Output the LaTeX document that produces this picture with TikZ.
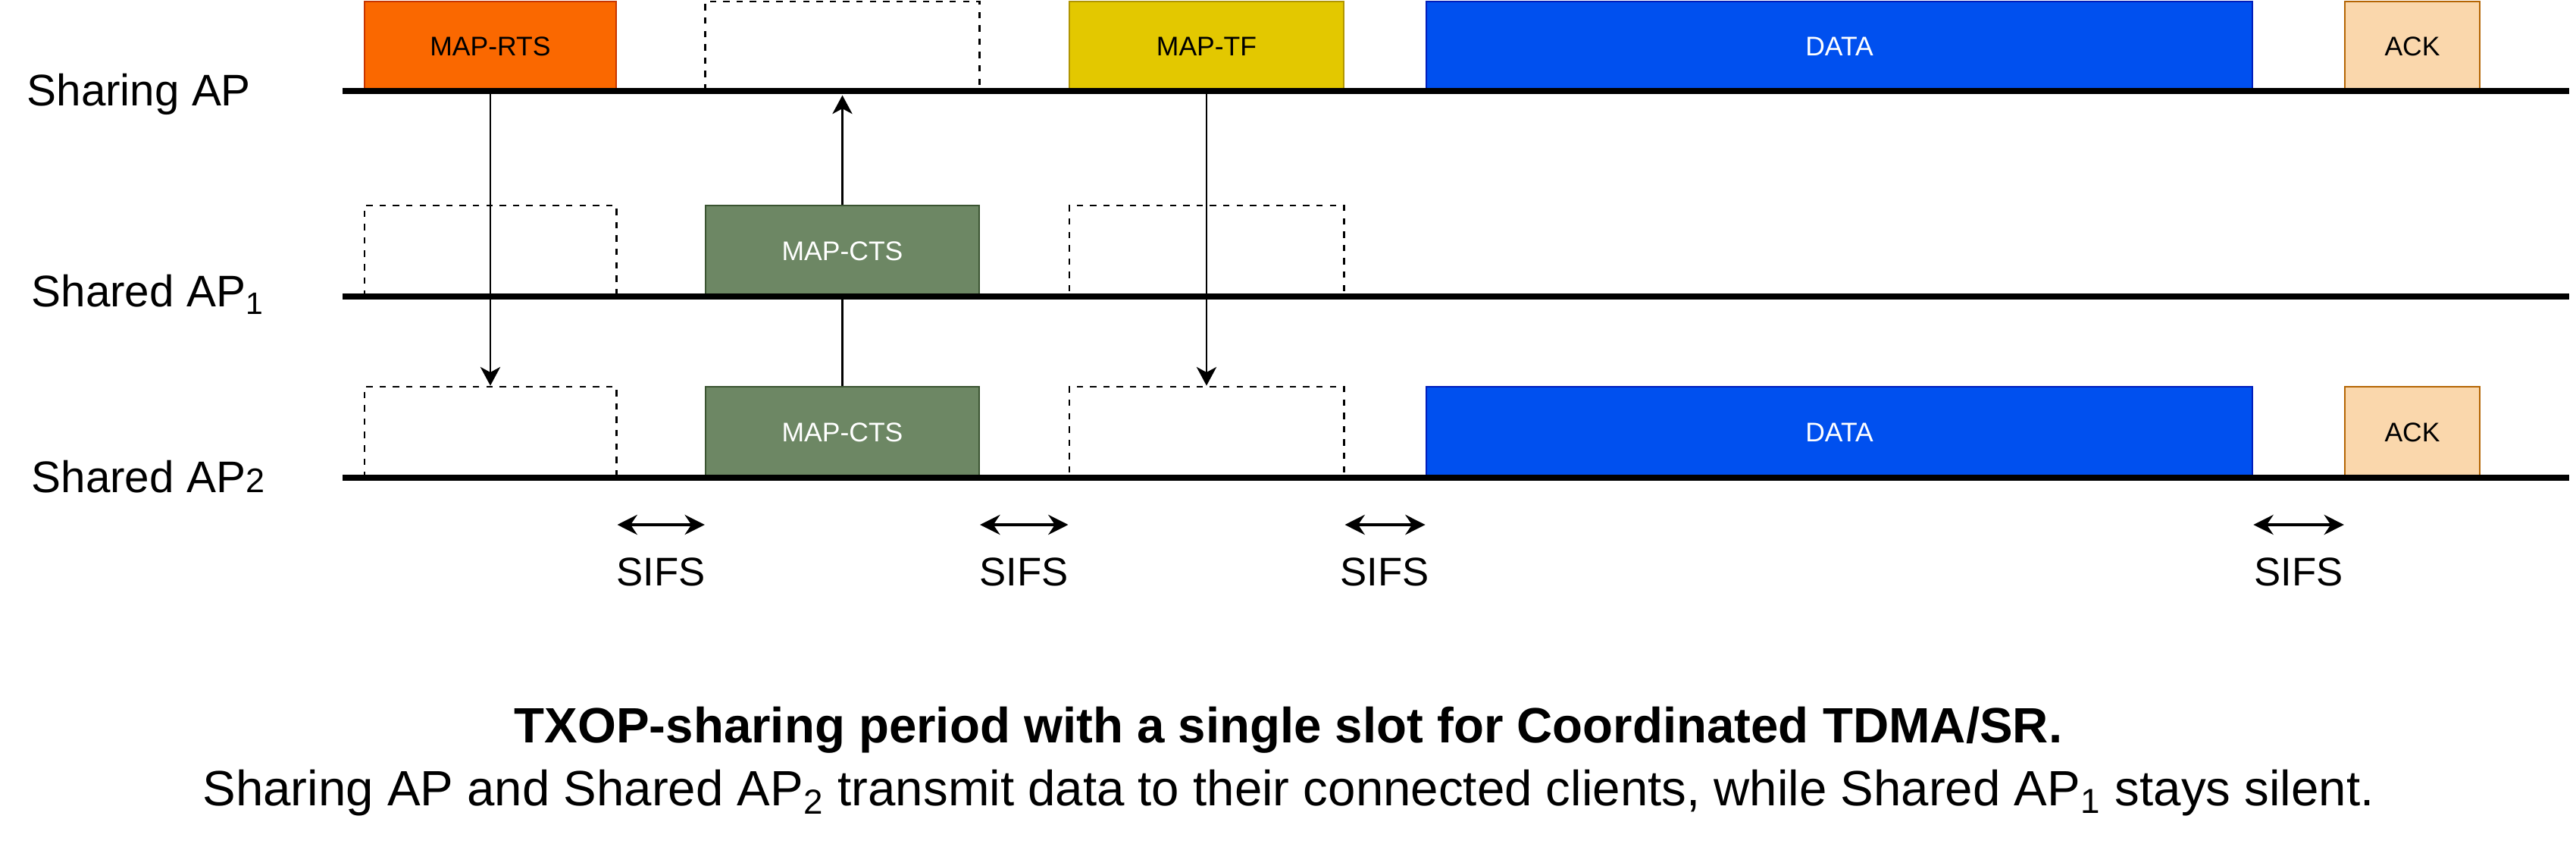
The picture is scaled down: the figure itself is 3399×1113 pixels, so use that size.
\documentclass[tikz,border=0pt]{standalone}
\usepackage{fontspec}
\setmainfont{Liberation Sans}
\usepackage{xcolor}
\usepackage{tikz}
\usetikzlibrary{arrows.meta, backgrounds}

\definecolor{rtsfill}{HTML}{FA6800}
\definecolor{rtsline}{HTML}{C73500}
\definecolor{ctsfill}{HTML}{6D8764}
\definecolor{ctsline}{HTML}{3A5431}
\definecolor{tffill}{HTML}{E3C800}
\definecolor{tfline}{HTML}{B09500}
\definecolor{datafill}{HTML}{0050EF}
\definecolor{dataline}{HTML}{001DBC}
\definecolor{ackfill}{HTML}{FAD7AC}
\definecolor{ackline}{HTML}{B46504}

\begin{document}
\begin{tikzpicture}[x=0.01cm, y=-0.01cm,
    frame/.style={draw, line width=0.6pt, minimum height=1.2cm, inner sep=0pt, font=\fontsize{10.1}{12}\selectfont},
    empty/.style={frame, dash pattern=on 2.4pt off 2.6pt, line width=0.8pt},
    rtsbox/.style={frame, fill=rtsfill, draw=rtsline},
    ctsbox/.style={frame, fill=ctsfill, draw=ctsline, text=white},
    tfbox/.style={frame, fill=tffill, draw=tfline},
    databox/.style={frame, fill=datafill, draw=dataline, text=white},
    ackbox/.style={frame, fill=ackfill, draw=ackline},
    timeline/.style={draw, line width=2.3pt},
    arrow/.style={draw, line width=0.6pt, -{Stealth[length=7pt, width=7.5pt, inset=2pt]}},
    gap/.style={draw, line width=0.9pt, {Stealth[length=7.5pt, width=7.5pt, inset=2.5pt]}-{Stealth[length=7.5pt, width=7.5pt, inset=2.5pt]}},
    rowlabel/.style={anchor=base west, inner sep=0pt, font=\fontsize{16.6}{20}\selectfont},
    sifs/.style={anchor=base, inner sep=0pt, font=\fontsize{15}{18}\selectfont},
    caption/.style={anchor=base, inner sep=0pt, font=\fontsize{18.6}{22}\selectfont}
]
    \useasboundingbox (0,0) rectangle (3399,1113);

    % Sharing AP
    \node[rtsbox, minimum width=3.32cm, minimum height=1.18cm] (rts) at (647,61) {MAP-RTS};
    \node[empty, minimum width=3.61cm, minimum height=1.18cm] (d1) at (1111.5,61) {};
    \node[tfbox, minimum width=3.62cm, minimum height=1.18cm] (tf) at (1592,61) {MAP-TF};
    \node[databox, minimum width=10.9cm, minimum height=1.18cm] (data1) at (2427,61) {DATA};
    \node[ackbox, minimum width=1.78cm, minimum height=1.18cm] (ack1) at (3183,61) {ACK};

    % Shared AP1
    \node[empty, minimum width=3.32cm] (e1a) at (647,331) {};
    \node[ctsbox, minimum width=3.61cm] (cts1) at (1111.5,331) {MAP-CTS};
    \node[empty, minimum width=3.62cm] (e1c) at (1592,331) {};

    % Shared AP2
    \node[empty, minimum width=3.32cm] (e2a) at (647,570) {};
    \node[ctsbox, minimum width=3.61cm] (cts2) at (1111.5,570) {MAP-CTS};
    \node[empty, minimum width=3.62cm] (e2c) at (1592,570) {};
    \node[databox, minimum width=10.9cm] (data2) at (2427,570) {DATA};
    \node[ackbox, minimum width=1.78cm] (ack2) at (3183,570) {ACK};

    % Timelines
    \node[rowlabel] (lsharing) at (35,140) {Sharing AP};
    \node[rowlabel] (lshared1) at (41,405) {Shared AP\textsubscript{1}};
    \node[rowlabel] (lshared2) at (41,650) {Shared AP{\fontsize{12.8}{14}\selectfont 2}};
    \coordinate (a0) at (452,120);  \coordinate (a1) at (3390,120);
    \coordinate (b0) at (452,391);  \coordinate (b1) at (3390,391);
    \coordinate (c0) at (452,630);  \coordinate (c1) at (3390,630);
    \draw[timeline] (a0) -- (a1);
    \draw[timeline] (b0) -- (b1);
    \draw[timeline] (c0) -- (c1);

    % Flow
    \begin{pgfonlayer}{background}
    \draw[arrow] (rts.south) -- (e2a.north);
    \draw[arrow, shorten >=1.2pt] (cts2.north) -- (d1.south);
    \draw[arrow] (tf.south) -- (e2c.north);
    \end{pgfonlayer}

    % SIFS
    \node[sifs] (s1) at (872,773) {SIFS};
    \node[sifs] (s2) at (1351,773) {SIFS};
    \node[sifs] (s3) at (1827,773) {SIFS};
    \node[sifs] (s4) at (3033,773) {SIFS};
    \draw[gap] (e2a.east |- 0,692) -- (cts2.west |- 0,692);
    \draw[gap] (cts2.east |- 0,692) -- (e2c.west |- 0,692);
    \draw[gap] (e2c.east |- 0,692) -- (data2.west |- 0,692);
    \draw[gap] (data2.east |- 0,692) -- (ack2.west |- 0,692);

    % Caption
    \node[caption, font=\bfseries\fontsize{18.6}{22}\selectfont] (title) at (1700,979) {TXOP-sharing period with a single slot for Coordinated TDMA/SR.};
    \node[caption] (note) at (1700,1062) {Sharing AP and Shared AP\textsubscript{2} transmit data to their connected clients, while Shared AP\textsubscript{1} stays silent.};
\end{tikzpicture}
\end{document}
